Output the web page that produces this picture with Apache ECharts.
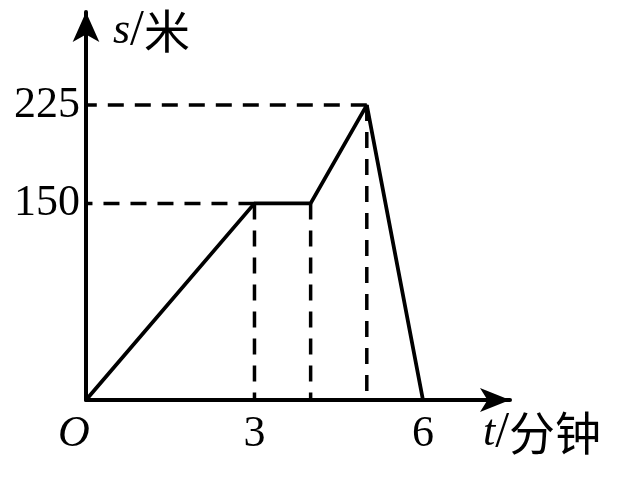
<!DOCTYPE html>
<html>
<head>
<meta charset="utf-8">
<script src="https://cdn.jsdelivr.net/npm/echarts@6/dist/echarts.min.js"></script>
<style>
html,body{margin:0;padding:0;background:#fff;}
#c{width:632px;height:482px;}
</style>
</head>
<body>
<div id="c"></div>
<script>
// data
var times = [0, 3, 4, 5, 6];
var distances = [0, 150, 150, 225, 0];
var guideTimes = [3, 4, 5];
var guideValues = [150, 150, 225];
var hGuideTimes = [3, 5];
var hGuideValues = [150, 225];
var xTickLabels = {0: 'O', 3: '3', 6: '6'};
var yTickLabels = {150: '150', 225: '225'};

var serif = 'Liberation Serif';
var cjk = 'Noto Sans CJK SC';

var mainData = times.map(function (t, i) { return [t, distances[i]]; });
var series = [{
  type: 'line',
  data: mainData,
  showSymbol: false,
  symbol: 'none',
  lineStyle: {color: '#000', width: 3.8},
  z: 5,
  animation: false
}];
guideTimes.forEach(function (t, i) {
  series.push({
    type: 'line', symbol: 'none', animation: false, z: 3,
    data: [[t, guideValues[i]], [t, 0]],
    lineStyle: {color: '#000', width: 3.5, type: [16, 11]}
  });
});
hGuideTimes.forEach(function (t, i) {
  series.push({
    type: 'line', symbol: 'none', animation: false, z: 3,
    data: [[t, hGuideValues[i]], [0, hGuideValues[i]]],
    lineStyle: {color: '#000', width: 3.5, type: [16, 11]}
  });
});

var chart = echarts.init(document.getElementById('c'), null, {renderer: 'canvas'});
chart.setOption({
  animation: false,
  backgroundColor: '#fff',
  grid: {left: 86, right: 122, top: 12, bottom: 82, containLabel: false},
  xAxis: {
    type: 'value', min: 0, max: 7.55, interval: 3,
    splitLine: {show: false},
    axisTick: {show: false},
    axisLine: {lineStyle: {color: '#000', width: 4}, symbol: ['none', 'arrow'], symbolSize: [18, 30]},
    axisLabel: {
      showMaxLabel: false, margin: 12,
      formatter: function (v) {
        var s = xTickLabels[v];
        if (!s) return '';
        return v === 0 ? '{i|' + s + '}' : '{n|' + s + '}';
      },
      rich: {
        i: {fontFamily: serif, fontStyle: 'italic', fontSize: 44, color: '#000', padding: [0, 24, 0, 0]},
        n: {fontFamily: serif, fontSize: 44, color: '#000'}
      }
    },
    name: '{i|t}{n|/}{c|分钟}',
    nameLocation: 'end',
    nameGap: -27,
    nameTextStyle: {
      align: 'left', verticalAlign: 'top', padding: [8, 0, 0, 0],
      rich: {
        i: {fontFamily: serif, fontStyle: 'italic', fontSize: 44, color: '#000'},
        n: {fontFamily: serif, fontSize: 50, color: '#000'},
        c: {fontFamily: cjk, fontSize: 46, color: '#000'}
      }
    }
  },
  yAxis: {
    type: 'value', min: 0, max: 296, interval: 75,
    splitLine: {show: false},
    axisTick: {show: false},
    axisLine: {lineStyle: {color: '#000', width: 4}, symbol: ['none', 'arrow'], symbolSize: [20, 30]},
    axisLabel: {
      showMaxLabel: false, margin: 6,
      fontFamily: serif, fontSize: 44, color: '#000',
      formatter: function (v) { return yTickLabels[v] || ''; }
    },
    name: '{i|s}{n|/}{c|米}',
    nameLocation: 'end',
    nameGap: -19,
    nameTextStyle: {
      align: 'left', verticalAlign: 'middle', padding: [0, 0, 0, 27],
      rich: {
        i: {fontFamily: serif, fontStyle: 'italic', fontSize: 44, color: '#000'},
        n: {fontFamily: serif, fontSize: 50, color: '#000'},
        c: {fontFamily: cjk, fontSize: 46, color: '#000'}
      }
    }
  },
  series: series
});
</script>
</body>
</html>
